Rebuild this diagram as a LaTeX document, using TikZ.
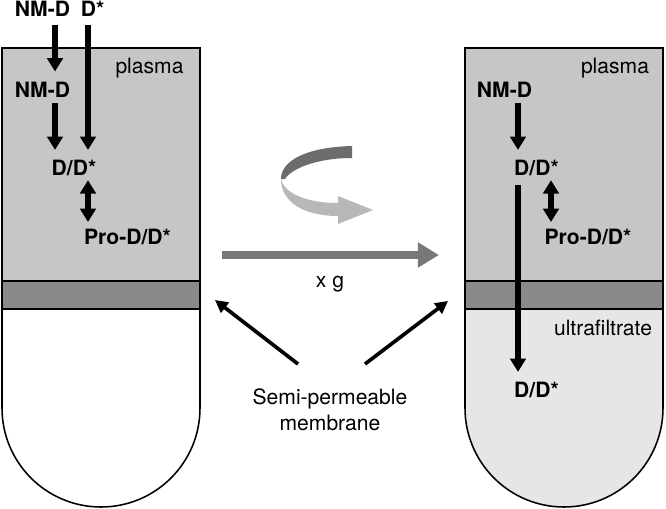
\documentclass[tikz,border=0pt]{standalone}
\usepackage{fontspec}
\setmainfont{TeX Gyre Heros}
\usepackage{xcolor}
\usepackage{tikz}
\usetikzlibrary{arrows.meta,calc,positioning}
\definecolor{plasmagray}{HTML}{C6C6C6}
\definecolor{membranegray}{HTML}{8A8A8A}
\definecolor{filtrategray}{HTML}{E6E6E6}
\definecolor{spingray}{HTML}{787878}
\definecolor{rotdark}{HTML}{6C6C6C}
\definecolor{rotlight}{HTML}{B8B8B8}

\begin{document}
\begin{tikzpicture}[x=0.025cm,y=0.025cm,
	every node/.style={inner sep=0pt,font=\fontsize{15}{19}\selectfont},
	lbl/.style={anchor=base,font=\fontsize{15}{19}\selectfont\bfseries},
	txt/.style={anchor=base},
	tube/.style={line width=1.1pt},
	flow/.style={line width=3.6pt,-{Triangle[width=11pt,length=9.5pt]}},
	equil/.style={line width=3.6pt,{Triangle[width=11pt,length=9.5pt]}-{Triangle[width=11pt,length=9.5pt]}},
	ptr/.style={line width=2.6pt,-{Triangle[width=9pt,length=9pt]}},
	spin/.style={spingray,line width=5pt,-{Triangle[width=17pt,length=15pt]}}]
	\useasboundingbox (0,0) rectangle (666,-508);
	\fill[plasmagray] (2,-48) rectangle (200,-281);
	\fill[membranegray] (2,-281) rectangle (200,-309);
	\draw[tube] (2,-48) -- (2,-408) arc[start angle=180,end angle=360,radius=99] -- (200,-48) -- cycle;
	\draw[tube] (2,-281) -- (200,-281) (2,-309) -- (200,-309);
	\fill[plasmagray] (465,-48) rectangle (663,-281);
	\fill[membranegray] (465,-281) rectangle (663,-309);
	\fill[filtrategray] (465,-309) -- (465,-408) arc[start angle=180,end angle=360,radius=99] -- (663,-309) -- cycle;
	\draw[tube] (465,-48) -- (465,-408) arc[start angle=180,end angle=360,radius=99] -- (663,-48) -- cycle;
	\draw[tube] (465,-281) -- (663,-281) (465,-309) -- (663,-309);
	\draw
		(42.5,-16) node[lbl](nmdtop){NM-D}
		(92.5,-16) node[lbl](dstar){D*}
		(149.5,-73) node[txt](plasmaL){plasma}
		(42.5,-97) node[lbl](nmdL){NM-D}
		(74,-175) node[lbl](ddL){D/D*}
		(127.5,-244) node[lbl](proL){Pro-D/D*}
		(615,-73) node[txt](plasmaR){plasma}
		(504.5,-97) node[lbl](nmdR){NM-D}
		(536.5,-175) node[lbl](ddR){D/D*}
		(588,-244) node[lbl](proR){Pro-D/D*}
		(603,-335) node[txt](ultra){ultrafiltrate}
		(536.5,-397) node[lbl](ddR2){D/D*}
		(330,-287) node[txt](xg){x g}
		(330,-388) node[anchor=north,align=center](semi){Semi-permeable\\membrane};
	\coordinate (colA) at (55,0);
	\coordinate (colB) at (88,0);
	\coordinate (colC) at (518,0);
	\coordinate (colD) at (551,0);
	\draw[flow,shorten <=6.4pt,shorten >=7pt](nmdtop.south -| colA) -- (nmdL.north -| colA);
	\draw[flow,shorten <=6.4pt,shorten >=6.7pt](dstar.south -| colB) -- (ddL.north -| colB);
	\draw[flow,shorten <=4.3pt,shorten >=6.7pt](nmdL.south -| colA) -- (ddL.north -| colA);
	\draw[equil,shorten <=3.3pt,shorten >=4.5pt](ddL.south -| colB) -- (proL.north -| colB);
	\draw[flow,shorten <=4.3pt,shorten >=6.7pt](nmdR.south -| colC) -- (ddR.north -| colC);
	\draw[flow,shorten <=6.8pt,shorten >=6.7pt](ddR.south -| colC) -- (ddR2.north -| colC);
	\draw[equil,shorten <=3.3pt,shorten >=4.5pt](ddR.south -| colD) -- (proR.north -| colD);
	\coordinate (spinS) at (222,-255);
	\coordinate (spinE) at (439,-255);
	\draw[spin](spinS) -- (spinE);
	\coordinate (memL) at (215,-300);
	\coordinate (memR) at (448,-301);
	\draw[ptr]($(semi.north)+(-32,24)$) -- (memL);
	\draw[ptr]($(semi.north)+(35,24)$) -- (memR);
	\fill[rotdark] (352,-146) .. controls (308,-147) and (281,-160) .. (281,-179) -- (285,-179) .. controls (292,-168) and (318,-158) .. (352,-158) -- cycle;
	\fill[rotlight] (281,-179) .. controls (284,-193) and (306,-203) .. (338,-203) -- (338,-196) -- (373,-210) -- (338,-224) -- (338,-216) .. controls (302,-216) and (281,-201) .. (281,-179) -- cycle;
\end{tikzpicture}
\end{document}
